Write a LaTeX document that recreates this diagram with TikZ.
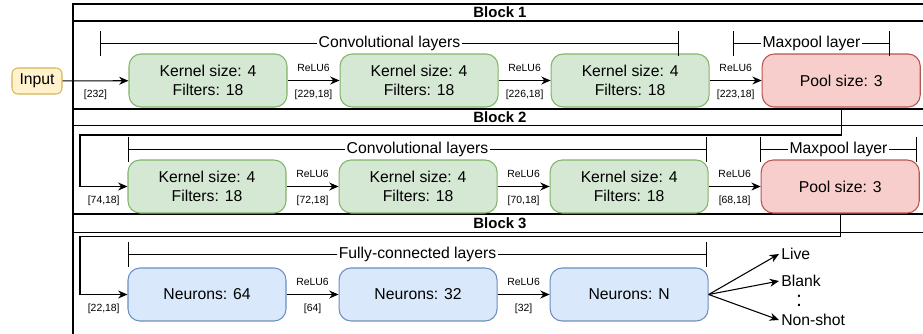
\documentclass[tikz,border=0pt]{standalone}
\usepackage{fontspec}
\setmainfont{Liberation Sans}
\usetikzlibrary{arrows.meta,positioning}

\definecolor{convfill}{HTML}{D5E8D4}
\definecolor{convline}{HTML}{82B366}
\definecolor{poolfill}{HTML}{F8CECC}
\definecolor{poolline}{HTML}{B85450}
\definecolor{densefill}{HTML}{DAE8FC}
\definecolor{denseline}{HTML}{6C8EBF}
\definecolor{inputfill}{HTML}{FFF2CC}
\definecolor{inputline}{HTML}{D6B656}

\begin{document}
\begin{tikzpicture}[
  x=0.75pt,y=-0.75pt,
  >={Stealth[length=7pt,width=6pt]},
  node distance=39pt,
  layer/.style={draw,line width=0.8pt,rounded corners=9pt,minimum width=118.5pt,
    minimum height=39.75pt,align=center,font=\fontsize{11.8}{14.7}\selectfont},
  conv/.style={layer,fill=convfill,draw=convline},
  pool/.style={layer,fill=poolfill,draw=poolline},
  dense/.style={layer,fill=densefill,draw=denseline},
  act/.style={font=\fontsize{7.8}{9}\selectfont,above=3pt},
  dim/.style={font=\fontsize{7.8}{9}\selectfont,below=3pt},
  span/.style={{Bar[width=19pt]}-{Bar[width=19pt]},line width=0.8pt},
  spanlabel/.style={fill=white,inner sep=1pt,font=\fontsize{11.8}{14}\selectfont},
  lane/.style={line width=1.1pt},
  title/.style={font=\bfseries\fontsize{11.2}{13}\selectfont},
  outlabel/.style={anchor=west,inner sep=1.5pt,font=\fontsize{11.8}{14}\selectfont},
  flow/.style={->,line width=0.8pt}
]
  \useasboundingbox (0,0) rectangle (923,333);

  % swimlanes
  \begin{scope}
    \clip (0,0) rectangle (923,333);
    \draw[lane] (73,4) rectangle (940,109);
    \draw[lane] (73,21) -- (940,21);
    \draw[lane] (73,109) rectangle (940,214);
    \draw[lane] (73,125.7) -- (940,125.7);
    \draw[lane] (73,214) rectangle (940,360);
    \draw[lane] (73,232.7) -- (940,232.7);
  \end{scope}
  \node[title] (blk1) at (500,12.5) {Block 1};
  \node[title] (blk2) at (500,117.5) {Block 2};
  \node[title] (blk3) at (500,223.5) {Block 3};

  % block 1
  \node[draw=inputline,fill=inputfill,line width=0.8pt,rounded corners=4.5pt,
    minimum width=37.5pt,minimum height=19.5pt,font=\fontsize{11.8}{14}\selectfont]
    (input) at (37,81) {Input};
  \node[conv] (conv11) at (208,80.5) {Kernel size: 4\\Filters: 18};
  \node[conv,right=of conv11] (conv12) {Kernel size: 4\\Filters: 18};
  \node[conv,right=of conv12] (conv13) {Kernel size: 4\\Filters: 18};
  \node[pool,right=of conv13] (pool1) {Pool size: 3};

  \draw[flow] (input) -- node[dim] {[232]} (conv11);
  \draw[flow] (conv11) -- node[act] {ReLU6} node[dim] {[229,18]} (conv12);
  \draw[flow] (conv12) -- node[act] {ReLU6} node[dim] {[226,18]} (conv13);
  \draw[flow] (conv13) -- node[act] {ReLU6} node[dim] {[223,18]} (pool1);

  \draw[span] (100,43.5) -- node[spanlabel] {Convolutional layers} (679,43.5);
  \draw[span] (733,43.5) -- node[spanlabel] {Maxpool layer} (890,43.5);

  % block 2
  \node[conv] (conv21) at (207,186.5) {Kernel size: 4\\Filters: 18};
  \node[conv,right=of conv21] (conv22) {Kernel size: 4\\Filters: 18};
  \node[conv,right=of conv22] (conv23) {Kernel size: 4\\Filters: 18};
  \node[pool,right=of conv23] (pool2) {Pool size: 3};

  \coordinate (turn1) at (80,135);
  \draw[flow] (pool1.south) |- (turn1) |- node[dim,pos=0.75] {[74,18]} (conv21.west);
  \draw[flow] (conv21) -- node[act] {ReLU6} node[dim] {[72,18]} (conv22);
  \draw[flow] (conv22) -- node[act] {ReLU6} node[dim] {[70,18]} (conv23);
  \draw[flow] (conv23) -- node[act] {ReLU6} node[dim] {[68,18]} (pool2);

  \draw[span] (128,149.5) -- node[spanlabel] {Convolutional layers} (707,149.5);
  \draw[span] (760,149.5) -- node[spanlabel] {Maxpool layer} (917,149.5);

  % block 3
  \node[dense] (fc1) at (207,294.5) {Neurons: 64};
  \node[dense,right=of fc1] (fc2) {Neurons: 32};
  \node[dense,right=of fc2] (fc3) {Neurons: N};

  \coordinate (turn2) at (80,236.7);
  \draw[flow] (pool2.south) |- (turn2) |- node[dim,pos=0.75] {[22,18]} (fc1.west);
  \draw[flow] (fc1) -- node[act] {ReLU6} node[dim] {[64]} (fc2);
  \draw[flow] (fc2) -- node[act] {ReLU6} node[dim] {[32]} (fc3);

  \draw[span] (128,254.5) -- node[spanlabel] {Fully-connected layers} (707,254.5);

  \node[outlabel] (live) at (779,254) {Live};
  \node[outlabel] (blank) at (779,281) {Blank};
  \node[outlabel] (nonshot) at (779,320) {Non-shot};
  \node[inner sep=0pt,font=\fontsize{16}{16}\selectfont] (dots) at (799,300.5) {:};
  \draw[flow] (fc3.east) -- (live.west);
  \draw[flow] (fc3.east) -- (blank.west);
  \draw[flow] (fc3.east) -- (nonshot.west);
\end{tikzpicture}
\end{document}
